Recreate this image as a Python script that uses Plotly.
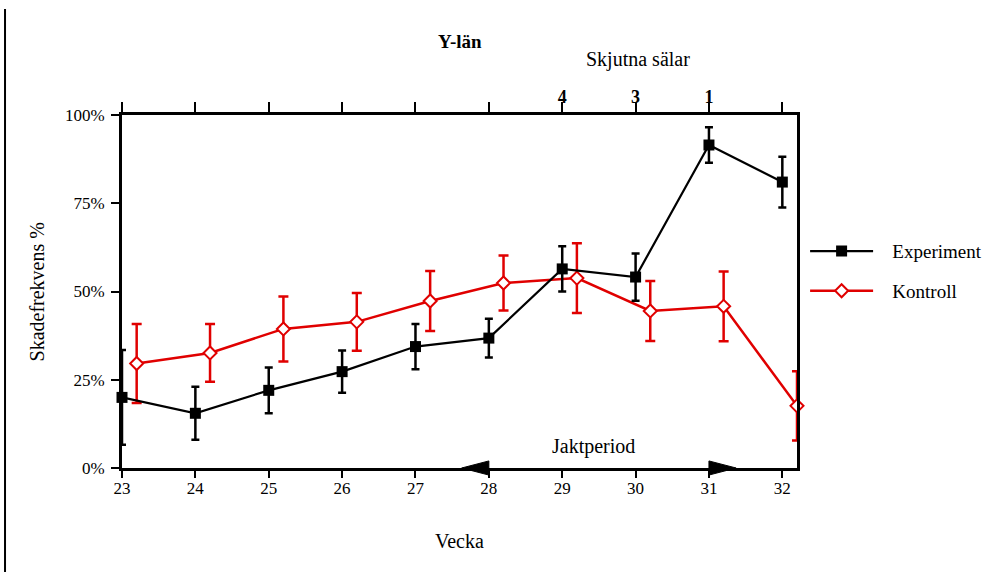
import plotly.graph_objects as go

# Weekly damage frequency (%) with error margins, Y-län
weeks = [23, 24, 25, 26, 27, 28, 29, 30, 31, 32]
experiment = [20.0, 15.5, 22.0, 27.3, 34.4, 36.8, 56.4, 54.1, 91.5, 81.0]
experiment_err = [13.4, 7.5, 6.5, 6.0, 6.4, 5.5, 6.4, 6.7, 5.0, 7.2]
kontroll = [29.6, 32.6, 39.4, 41.4, 47.3, 52.4, 53.8, 44.5, 45.8, 17.6]
kontroll_err = [11.2, 8.2, 9.2, 8.2, 8.5, 7.8, 9.9, 8.5, 9.9, 9.8]
kontroll_shift = 0.2  # control series drawn slightly right of each week

# Seals shot per week (top axis)
seals_shot = ["", "", "", "", "", "", "4", "3", "1", ""]

# Hunting period along the week axis
hunt_start, hunt_end = 28, 31

FONT = "Times New Roman, Liberation Serif, DejaVu Serif, serif"
RED = "#e00000"
X_RANGE = [23, 32.2]
NBSP = "\u00a0"

fig = go.Figure()

fig.add_trace(go.Scatter(
    x=[w + kontroll_shift for w in weeks], y=kontroll,
    name=NBSP * 3 + "Kontroll", mode="lines+markers",
    line=dict(color=RED, width=2.5),
    marker=dict(symbol="diamond", size=10, color="white",
                line=dict(color=RED, width=2)),
    error_y=dict(type="data", array=kontroll_err, visible=True,
                 color=RED, thickness=2.5, width=5),
    legendgroup="k", legendrank=2, cliponaxis=False,
))

fig.add_trace(go.Scatter(
    x=weeks, y=experiment,
    name=NBSP * 3 + "Experiment", mode="lines+markers",
    line=dict(color="black", width=2.2),
    marker=dict(symbol="square", size=11, color="black"),
    error_y=dict(type="data", array=experiment_err, visible=True,
                 color="black", thickness=2.5, width=4),
    legendgroup="e", legendrank=1, cliponaxis=False,
))

# carrier for the top axis
fig.add_trace(go.Scatter(x=[weeks[0], weeks[-1]], y=[None, None], xaxis="x2",
                         showlegend=False, hoverinfo="skip"))

# hunting-period arrowheads on the week axis
head_len = 0.37
head_half = 0.02
fig.add_shape(type="path", xref="x", yref="paper", fillcolor="black",
              line=dict(color="black", width=1),
              path=f"M {hunt_start - head_len},0 L {hunt_start},{head_half} "
                   f"L {hunt_start},{-head_half} Z")
fig.add_shape(type="path", xref="x", yref="paper", fillcolor="black",
              line=dict(color="black", width=1),
              path=f"M {hunt_end + head_len},0 L {hunt_end},{head_half} "
                   f"L {hunt_end},{-head_half} Z")

# page rule on the left
fig.add_shape(type="line", xref="paper", yref="paper",
              x0=-0.1733, x1=-0.1733, y0=1.30, y1=-0.30,
              line=dict(color="black", width=2))


def label(text, x, y, size=20, xref="paper", angle=0):
    return dict(text=text, x=x, y=y, xref=xref, yref="paper", showarrow=False,
                xanchor="center", yanchor="middle", textangle=angle,
                font=dict(size=size, family=FONT))


annotations = [
    label("<b>Y-län</b>", 0.5, 1.207, size=19),
    label("Skjutna sälar", 0.764, 1.156),
    label("Jaktperiod", (hunt_start + hunt_end) / 2 - 0.08, 0.062, xref="x"),
    label("Vecka", 0.5, -0.207),
    label("Skadefrekvens %", -0.126, 0.5, angle=-90),
]

fig.update_layout(
    width=991, height=572,
    margin=dict(l=122, r=194, t=115, b=104, autoexpand=False),
    paper_bgcolor="white", plot_bgcolor="white",
    font=dict(family=FONT, color="black", size=17),
    showlegend=True,
    legend=dict(x=1.012, y=0.668, xanchor="left", yanchor="top",
                font=dict(size=19, family=FONT), itemwidth=63, tracegroupgap=12,
                bgcolor="rgba(0,0,0,0)"),
    annotations=annotations,
    xaxis=dict(range=X_RANGE, tickvals=weeks, ticktext=[str(w) for w in weeks],
               showline=True, linewidth=3, linecolor="black",
               ticks="outside", ticklen=7, tickwidth=2, tickcolor="black",
               ticklabelstandoff=-4,
               showgrid=False, zeroline=False,
               tickfont=dict(size=17, family=FONT)),
    xaxis2=dict(range=X_RANGE, overlaying="x", side="top", anchor="y",
                tickvals=weeks, ticktext=[f"<b>{s}</b>" if s else "" for s in seals_shot],
                showline=True, linewidth=3, linecolor="black",
                ticks="outside", ticklen=10, tickwidth=2, tickcolor="black",
                ticklabelstandoff=-8,
                showgrid=False, zeroline=False,
                tickfont=dict(size=18, family=FONT)),
    yaxis=dict(range=[0, 100], tickvals=[0, 25, 50, 75, 100],
               ticktext=["0%", "25%", "50%", "75%", "100%"],
               showline=True, linewidth=3, linecolor="black", mirror=True,
               ticks="outside", ticklen=8, tickwidth=2, tickcolor="black",
               ticklabelstandoff=3,
               showgrid=False, zeroline=False,
               tickfont=dict(size=17, family=FONT)),
)

fig.write_html("out.html")
